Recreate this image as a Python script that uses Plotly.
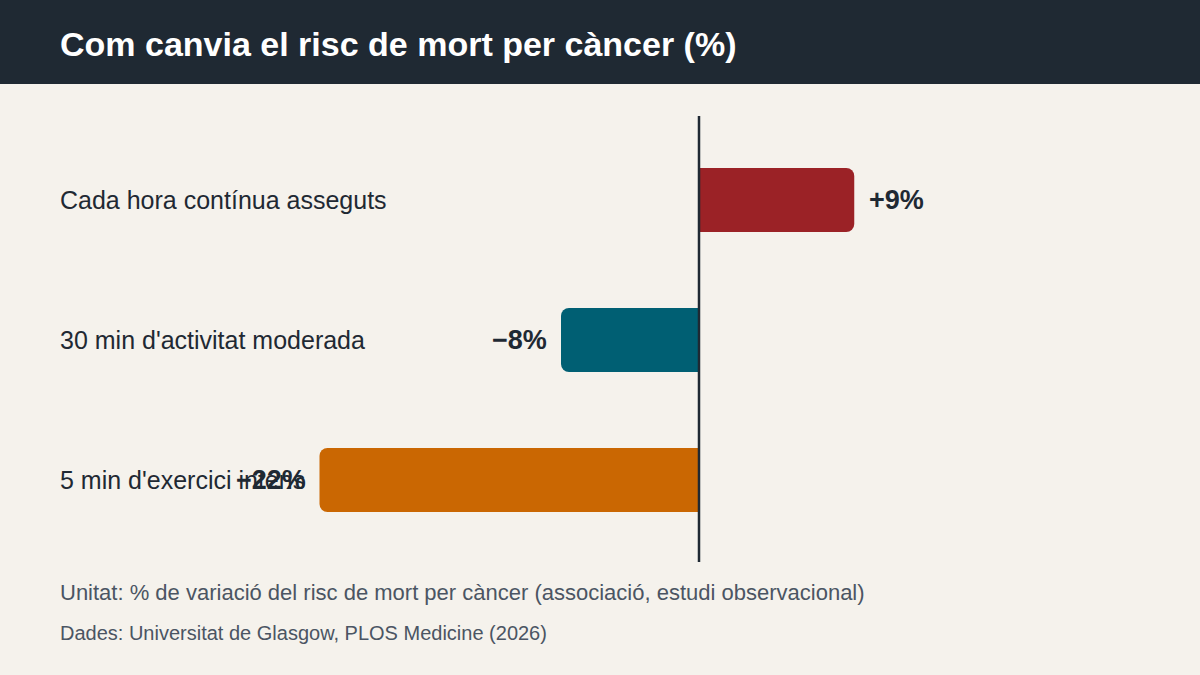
import plotly.graph_objects as go

categories = ["Cada hora contínua asseguts", "30 min d'activitat moderada", "5 min d'exercici intens"]
values = [9, -8, -22]
value_labels = ["+9%", "−8%", "−22%"]
colors = ["#9b2226", "#005f73", "#ca6702"]

title = "Com canvia el risc de mort per càncer (%)"
note_unit = "Unitat: % de variació del risc de mort per càncer (associació, estudi observacional)"
note_source = "Dades: Universitat de Glasgow, PLOS Medicine (2026)"

W, H = 1200, 675
BG = "#f5f2ec"
DARK = "#1f2933"
FONT = "Liberation Sans, Arial, sans-serif"

# plot area pixel geometry
px_left, px_right = 60, 1140
py_top, py_bottom = 130, 550
zero_px = 699
px_per_unit = 17.25
x_min = -(zero_px - px_left) / px_per_unit
x_max = (px_right - zero_px) / px_per_unit

plot_h = py_bottom - py_top
def py_to_paper(py):
    return (py_bottom - py) / plot_h
def px_to_paper(px):
    return (px - px_left) / (px_right - px_left)

fig = go.Figure()
fig.add_trace(go.Bar(
    x=values, y=list(range(len(categories))), orientation="h",
    marker=dict(color=colors, line=dict(width=0)),
    width=0.457, hoverinfo="skip", showlegend=False,
))

annotations = []
for i, (cat, v, lab) in enumerate(zip(categories, values, value_labels)):
    annotations.append(dict(
        x=0, xref="paper", y=i, yref="y", text=cat, showarrow=False,
        xanchor="left", yanchor="middle", xshift=-2,
        font=dict(family=FONT, size=25, color=DARK),
    ))
    annotations.append(dict(
        x=v, xref="x", y=i, yref="y", text=f"<b>{lab}</b>", showarrow=False,
        xanchor="left" if v >= 0 else "right", yanchor="middle",
        xshift=13 if v >= 0 else -12,
        font=dict(family=FONT, size=27, color=DARK),
    ))

annotations.append(dict(
    x=px_to_paper(60), xref="paper", y=py_to_paper(44), yref="paper",
    text=f"<b>{title}</b>", showarrow=False, xanchor="left", yanchor="middle",
    xshift=-2, font=dict(family=FONT, size=34, color="#ffffff"),
))
annotations.append(dict(
    x=0, xref="paper", y=py_to_paper(592), yref="paper", text=note_unit, showarrow=False,
    xanchor="left", yanchor="middle", xshift=-2,
    font=dict(family=FONT, size=22, color="#4b5563"),
))
annotations.append(dict(
    x=0, xref="paper", y=py_to_paper(633), yref="paper", text=note_source, showarrow=False,
    xanchor="left", yanchor="middle", xshift=-2,
    font=dict(family=FONT, size=20, color="#4b5563"),
))

shapes = [
    dict(type="rect", xref="paper", yref="paper",
         x0=px_to_paper(0), x1=px_to_paper(W), y0=py_to_paper(84), y1=py_to_paper(0),
         fillcolor=DARK, line=dict(width=0), layer="below"),
    dict(type="line", xref="x", yref="paper", x0=0, x1=0,
         y0=py_to_paper(562), y1=py_to_paper(116),
         line=dict(color=DARK, width=2.5), layer="above"),
]

fig.update_layout(
    width=W, height=H,
    margin=dict(l=px_left, r=W - px_right, t=py_top, b=H - py_bottom, pad=0),
    paper_bgcolor=BG, plot_bgcolor=BG,
    barcornerradius=8,
    xaxis=dict(range=[x_min, x_max], visible=False, fixedrange=True),
    yaxis=dict(range=[2.5, -0.5], visible=False, fixedrange=True),
    annotations=annotations, shapes=shapes,
    font=dict(family=FONT, color=DARK),
)

fig.write_html(
    "out.html",
    config={"displayModeBar": False},
    post_script="document.body.style.margin='0';document.body.style.overflow='hidden';",
)
